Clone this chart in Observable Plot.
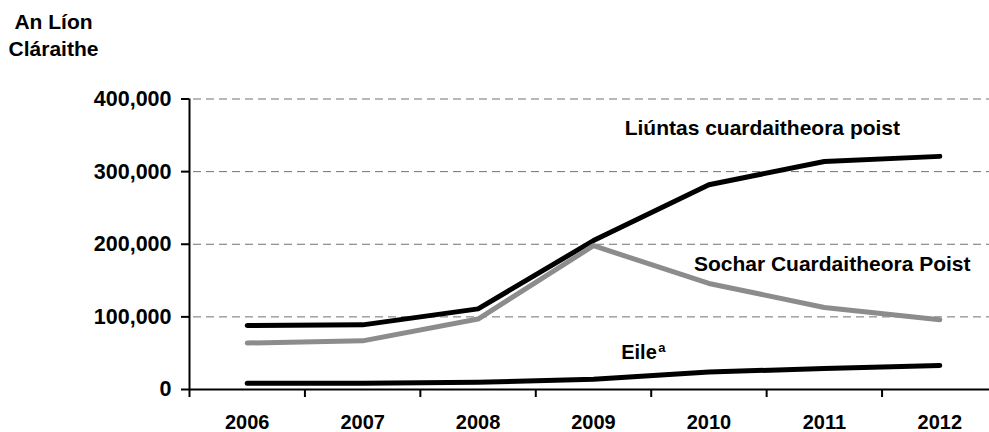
<!DOCTYPE html>
<html>
<head>
<meta charset="utf-8">
<script src="https://cdn.jsdelivr.net/npm/d3@7"></script>
<script src="https://cdn.jsdelivr.net/npm/@observablehq/plot@0.6"></script>
<style>
  html, body { margin: 0; padding: 0; background: #fff; }
</style>
</head>
<body>
<div id="chart"></div>
<script>
const years = [2006, 2007, 2008, 2009, 2010, 2011, 2012];
const liuntas = [88000, 89000, 111000, 205000, 282000, 314000, 321000];
const sochar = [64000, 67000, 97000, 198000, 146000, 113000, 96000];
const eile = [8500, 8500, 10000, 14000, 24000, 29000, 33000];
const yTicks = [0, 100000, 200000, 300000, 400000];
const gridTicks = [100000, 200000, 300000, 400000];
const seriesNames = ["Liúntas cuardaitheora poist", "Sochar Cuardaitheora Poist", "Eile"];
const yTitle = "An Líon\nCláraithe";

const rows = (vals, name) => years.map((y, i) => ({year: y, value: vals[i], series: name}));
const boundaries = [...years.map(y => y - 0.5), years[years.length - 1] + 0.5];

const font = "'Liberation Sans', Arial, Helvetica, sans-serif";

const chart = Plot.plot({
  width: 989,
  height: 432,
  marginLeft: 189,
  marginRight: 0,
  marginTop: 98.5,
  marginBottom: 43,
  style: {fontFamily: font, fontWeight: "bold", fontSize: "21px", color: "#000", background: "#fff"},
  x: {type: "linear", domain: [2005.5, 2012.5], range: [189, 997]},
  y: {type: "linear", domain: [0, 400000], range: [389, 98.5]},
  marks: [
    Plot.ruleY(gridTicks, {stroke: "#707070", strokeWidth: 1, strokeDasharray: "8,5", insetLeft: 4}),
    Plot.axisY({ticks: yTicks, tickFormat: d3.format(","), tickSize: 8, tickPadding: 10, strokeWidth: 2, stroke: "#000", fontSize: 21.5, fontWeight: "bold", label: null}),
    Plot.axisX({ticks: years, tickSize: 0, tickPadding: 25, tickFormat: d => String(d), fontSize: 20, fontWeight: "bold", label: null}),
    Plot.axisX({ticks: boundaries, tickSize: 8, strokeWidth: 2, stroke: "#000", tickFormat: () => "", label: null}),
    Plot.ruleX([2005.5], {y1: 0, y2: 400000, stroke: "#000", strokeWidth: 2}),
    Plot.ruleY([0], {stroke: "#000", strokeWidth: 2}),
    Plot.line(rows(eile, seriesNames[2]), {x: "year", y: "value", stroke: "#000", strokeWidth: 5, strokeLinecap: "round", strokeLinejoin: "round"}),
    Plot.line(rows(liuntas, seriesNames[0]), {x: "year", y: "value", stroke: "#000", strokeWidth: 5, strokeLinecap: "round", strokeLinejoin: "round"}),
    Plot.line(rows(sochar, seriesNames[1]), {x: "year", y: "value", stroke: "#8c8c8c", strokeWidth: 5, strokeLinecap: "round", strokeLinejoin: "round"}),
    Plot.text([seriesNames[0]], {x: () => 2009.27, y: () => 351000, text: d => d, textAnchor: "start", lineAnchor: "bottom", fontSize: 21, fontWeight: "bold", fill: "#000"}),
    Plot.text([seriesNames[1]], {x: () => 2009.87, y: () => 163000, text: d => d, textAnchor: "start", lineAnchor: "bottom", fontSize: 21, fontWeight: "bold", fill: "#000"}),
    Plot.text([seriesNames[2]], {x: () => 2009.24, y: () => 42300, text: d => d, textAnchor: "start", lineAnchor: "bottom", fontSize: 20, fontWeight: "bold", fill: "#000"}),
    Plot.text(["a"], {x: () => 2009.56, y: () => 52000, text: d => d, textAnchor: "start", lineAnchor: "bottom", fontSize: 13, fontWeight: "bold", fill: "#000"}),
    Plot.text([yTitle], {frameAnchor: "top-left", text: d => d, dx: -136, dy: -43.5, textAnchor: "middle", lineAnchor: "bottom", lineHeight: 1.24, fontSize: 21, fontWeight: "bold", fill: "#000"})
  ]
});
document.getElementById("chart").appendChild(chart);
</script>
</body>
</html>
